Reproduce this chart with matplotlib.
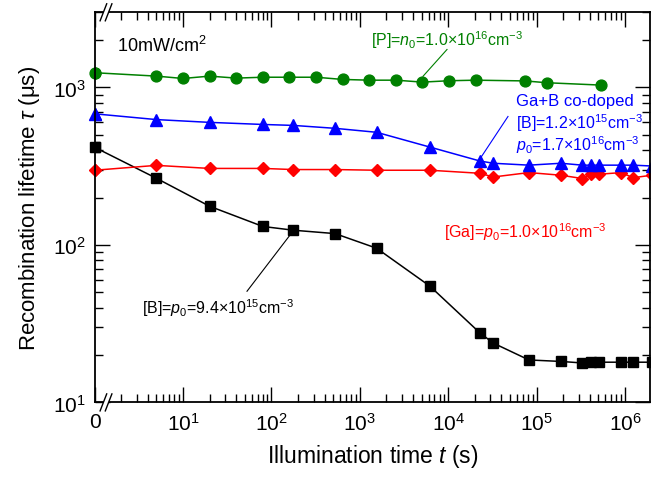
import matplotlib
matplotlib.use("Agg")
import matplotlib.pyplot as plt
from matplotlib.ticker import FixedLocator, LogLocator, NullFormatter
from matplotlib.patches import Polygon

plt.rcParams['font.family'] = ['Liberation Sans', 'DejaVu Sans']
plt.rcParams['mathtext.fontset'] = 'custom'
plt.rcParams['mathtext.rm'] = 'Liberation Sans'
plt.rcParams['mathtext.it'] = 'Liberation Sans:italic'
plt.rcParams['mathtext.bf'] = 'Liberation Sans:bold'

# ---- data (t = 0 plotted at position of 10^0, labelled "0") ----
t_sq = [1, 5, 20, 80, 177, 525, 1550, 6220, 22900, 32400, 82000, 189000,
        329000, 408000, 508000, 912000, 1.23e6, 2.0e6]
tau_B = [417, 265, 176, 131, 124, 118, 95.3, 54.7, 27.6, 23.8, 18.6, 18.2,
         17.8, 18, 18, 18, 18, 18]
tau_Ga = [298, 320, 306, 306, 301, 301, 298, 298, 285, 270, 288, 277,
          264, 281, 281, 288, 267, 277]
tau_GaB = [680, 625, 600, 582, 574, 550, 519, 418, 341, 330, 321, 330,
           321, 321, 321, 321, 321, 317]

t_P = [1, 5, 10, 20, 40, 80, 160, 320, 640, 1280, 2560, 5120, 10240, 20480,
       74000, 131000, 531000]
tau_P = [1240, 1180, 1140, 1180, 1146, 1161, 1161, 1161, 1124, 1112, 1112,
         1081, 1103, 1112, 1100, 1071, 1035]

xticks = [1, 10, 100, 1e3, 1e4, 1e5, 1e6]
xticklabels = ['0', '$10^1$', '$10^2$', '$10^3$', '$10^4$', '$10^5$', '$10^6$']
yticks = [10, 100, 1000]
yticklabels = ['$10^1$', '$10^2$', '$10^3$']

fig = plt.figure(figsize=(6.64, 4.81), dpi=100)
W, H = 664, 481
L, R, T, B = 94.6, 650, 13.3, 403.4
ax = fig.add_axes([L / W, (H - B) / H, (R - L) / W, (B - T) / H])
ax.set_xscale('log')
ax.set_yscale('log')
ax.set_xlim(1, 1.92e6)
ax.set_ylim(10, 3000)

series = [
    (t_sq, tau_B, 'k', 's', 7),
    (t_sq, tau_Ga, '#ff0000', 'D', 6.3),
    (t_sq, tau_GaB, '#0000ff', '^', 8),
    (t_P, tau_P, '#008000', 'o', 7.8),
]
for xs, ys, c, m, ms in series:
    ax.plot(xs, ys, color=c, lw=1.1, marker=m, ms=ms, mec=c, mfc=c)
    ax.plot(xs[:1], ys[:1], color=c, lw=0, marker=m, ms=ms, mec=c, mfc=c,
            clip_on=False)

# ticks
ax.xaxis.set_major_locator(FixedLocator(xticks))
ax.set_xticklabels(xticklabels)
ax.xaxis.set_minor_locator(LogLocator(base=10, subs=range(2, 10), numticks=20))
ax.xaxis.set_minor_formatter(NullFormatter())
ax.yaxis.set_major_locator(FixedLocator(yticks))
ax.set_yticklabels(yticklabels)
ax.yaxis.set_minor_locator(LogLocator(base=10, subs=range(2, 10), numticks=20))
ax.yaxis.set_minor_formatter(NullFormatter())
ax.tick_params(which='both', direction='in', top=True, right=True, width=1.0,
               labelsize=15, color='k')
ax.tick_params(which='major', length=11)
ax.tick_params(which='minor', length=5.5)
ax.tick_params(axis='x', which='major', pad=7)
ax.tick_params(axis='y', which='major', pad=6)
for s in ax.spines.values():
    s.set_linewidth(1.3)

ax.set_xlabel('Illumination time $t$ (s)', fontsize=16.5, labelpad=6)
ax.set_ylabel(r'Recombination lifetime $\tau$ ($\mathrm{\mu}$s)', fontsize=16,
              labelpad=8)

# break marks
aw, ah = R - L, B - T
xc = (106 - L) / aw
dx = 3.3 / aw
dy = 8.5 / ah
sep = 2.6 / aw
for y0 in (0, 1):
    poly = Polygon([(xc - sep - dx, y0 - dy), (xc + sep - dx, y0 - dy),
                    (xc + sep + dx, y0 + dy), (xc - sep + dx, y0 + dy)],
                   closed=True, transform=ax.transAxes, fc='white', ec='none',
                   clip_on=False, zorder=10)
    ax.add_patch(poly)
    for s in (-sep, sep):
        ax.plot([xc + s - dx, xc + s + dx], [y0 - dy, y0 + dy], color='k',
                lw=1.0, transform=ax.transAxes, clip_on=False, zorder=11)

# annotations
fs = 11.5
ax.text(1.79, 1862, '10mW/cm$^2$', fontsize=13, ha='left', va='center')

ax.text(9800, 2014, '[P]=$n_0$=1.0$\\times$10$^{16}$cm$^{-3}$', fontsize=fs,
        color='#008000', ha='center', va='center')
ax.plot([9700, 5190], [1742, 1177], color='#008000', lw=0.8)

ax.text(58500, 828, 'Ga+B co-doped', fontsize=12, color='#0000ff',
        ha='left', va='center')
ax.text(58500, 601, '[B]=1.2$\\times$10$^{15}$cm$^{-3}$', fontsize=fs,
        color='#0000ff', ha='left', va='center')
ax.text(58500, 436, '$p_0$=1.7$\\times$10$^{16}$cm$^{-3}$', fontsize=fs,
        color='#0000ff', ha='left', va='center')
ax.plot([47500, 22900], [654, 352], color='#0000ff', lw=0.8)

ax.text(74000, 122, '[Ga]=$p_0$=1.0$\\times$10$^{16}$cm$^{-3}$', fontsize=fs,
        color='#ff0000', ha='center', va='center')

ax.text(24.6, 40.3, '[B]=$p_0$=9.4$\\times$10$^{15}$cm$^{-3}$', fontsize=fs,
        color='k', ha='center', va='center')
ax.plot([53, 175], [50.8, 122], color='k', lw=0.8)

fig.savefig('out.png', dpi=100)
